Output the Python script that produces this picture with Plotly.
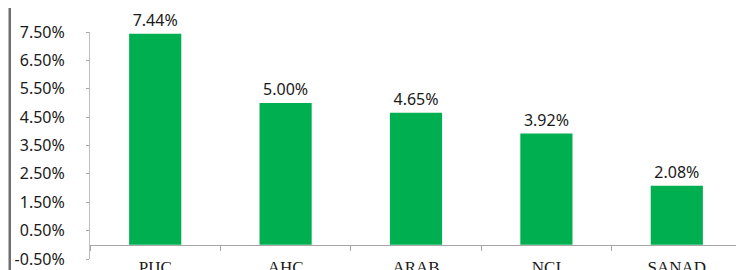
import plotly.graph_objects as go

categories = ["PIJC", "AHC", "ARAB", "NCI", "SANAD"]
values = [0.0744, 0.0500, 0.0465, 0.0392, 0.0208]
tick_vals = [-0.005, 0.005, 0.015, 0.025, 0.035, 0.045, 0.055, 0.065, 0.075]
tick_text = ["-0.50%", "0.50%", "1.50%", "2.50%", "3.50%", "4.50%", "5.50%", "6.50%", "7.50%"]

# page body has an 8px default margin; compensate
OFF = 8
W, H = 744 - OFF, 270 - OFF
ML, R, T, B = 2, 2, 32 - OFF, 11          # paper starts at page x = 10
PAPER_W = W - ML - R
AXIS_X = 90 - OFF                          # y-axis at page x = 90
dom0 = (AXIS_X - ML) / PAPER_W
ymin, ymax = -0.005, 0.075
zero_pos = (0 - ymin) / (ymax - ymin)

fig = go.Figure()
fig.add_trace(go.Bar(
    x=categories, y=values, width=0.4,
    marker=dict(color="#00B050", line=dict(width=0)),
    text=[f"{v*100:.2f}%" for v in values],
    textposition="outside", cliponaxis=False,
    textfont=dict(family="Noto Sans", size=16, color="#1a1a1a"),
))
# empty trace so the border axis is drawn
fig.add_trace(go.Scatter(x=[], y=[], yaxis="y2", showlegend=False, hoverinfo="skip"))

fig.update_layout(
    width=W, height=H, margin=dict(l=ML, r=R, t=T, b=B, autoexpand=False),
    plot_bgcolor="white", paper_bgcolor="white", showlegend=False,
    xaxis=dict(
        domain=[dom0, 1],
        anchor="free", position=zero_pos, automargin=False,
        showline=True, linecolor="#a6a6a6", linewidth=1,
        ticks="outside", ticklen=5, tickcolor="#a6a6a6", tickson="boundaries",
        tickfont=dict(family="Liberation Serif", size=17, color="#1a1a1a"),
        ticklabelstandoff=7,
        showgrid=False, zeroline=False,
    ),
    yaxis=dict(
        range=[ymin, ymax], tickvals=tick_vals, ticktext=tick_text, automargin=False,
        anchor="x",
        showline=True, linecolor="#bfbfbf", linewidth=1,
        ticks="outside", ticklen=3, tickcolor="#a6a6a6",
        tickfont=dict(family="Noto Sans", size=16, color="#1a1a1a"),
        ticklabelstandoff=18,
        showgrid=False, zeroline=False,
    ),
    yaxis2=dict(
        overlaying="y", anchor="free", position=0, side="left",
        range=[ymin, ymax], automargin=False,
        showline=True, linecolor="#6e6e6e", linewidth=2,
        showticklabels=False, ticks="", showgrid=False, zeroline=False,
    ),
)

# outer chart border on the left, full height (page x ~ 8.5..11)
fig.add_shape(type="rect", xref="paper", yref="paper", layer="above",
              x0=(8.5 - 10) / PAPER_W, x1=(11 - 10) / PAPER_W, y0=-0.3, y1=1.3,
              fillcolor="#6e6e6e", line=dict(width=0))

fig.write_html("out.html")
